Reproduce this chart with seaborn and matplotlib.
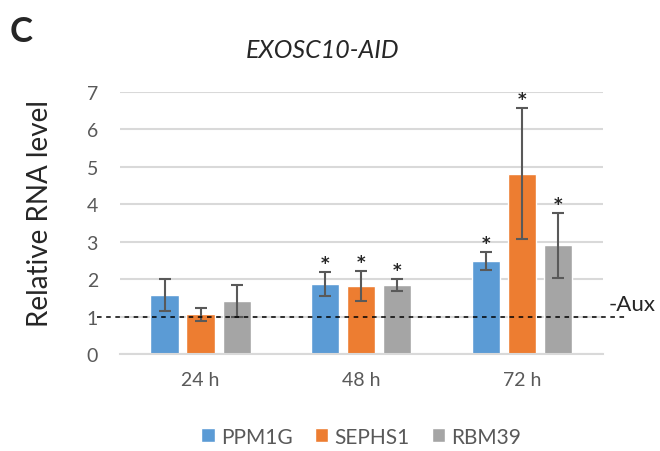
import matplotlib
matplotlib.use("Agg")
import matplotlib.pyplot as plt
import matplotlib.transforms as mtransforms
import pandas as pd
import seaborn as sns

# data
timepoints = ["24 h", "48 h", "72 h"]
genes = ["PPM1G", "SEPHS1", "RBM39"]
ppm1g = [1.57, 1.87, 2.49]
sephs1 = [1.06, 1.81, 4.81]
rbm39 = [1.42, 1.84, 2.91]
ppm1g_err = [0.43, 0.31, 0.24]
sephs1_err = [0.17, 0.40, 1.75]
rbm39_err = [0.42, 0.16, 0.87]
ppm1g_sig = [False, True, True]
sephs1_sig = [False, True, True]
rbm39_sig = [False, True, True]
no_aux_level = 1.0

colors = ["#5b9bd5", "#ed7d31", "#a5a5a5"]

df = pd.DataFrame({
    "time": timepoints * 3,
    "gene": [g for g in genes for _ in timepoints],
    "level": ppm1g + sephs1 + rbm39,
})
errs = [ppm1g_err, sephs1_err, rbm39_err]
sigs = [ppm1g_sig, sephs1_sig, rbm39_sig]

sns.set_style("white")
plt.rcParams["font.family"] = ["Lato", "DejaVu Sans"]

fig = plt.figure(figsize=(6.6, 4.52), dpi=100)
ax = fig.add_axes([0.182, 0.2146, 0.731, 0.5796])

sns.barplot(data=df, x="time", y="level", hue="gene", order=timepoints,
            hue_order=genes, palette=colors, errorbar=None,
            width=0.672, gap=0.22, saturation=1, ax=ax)

# error bars and significance stars on top of each bar
for cont, err, sig in zip(ax.containers, errs, sigs):
    for bar, e, s in zip(cont, err, sig):
        xc = bar.get_x() + bar.get_width() / 2
        h = bar.get_height()
        ax.errorbar(xc, h, yerr=e, color="#595959", lw=1.5,
                    capsize=4.5, capthick=1.5, zorder=3)
        if s:
            ax.annotate("*", (xc, h + e), xytext=(0, 0),
                        textcoords="offset points", ha="center",
                        va="bottom", fontsize=12, fontweight="bold",
                        family="DejaVu Sans")

ax.set_ylim(0, 7)
ax.set_xlim(-0.5, 2.5)
ax.set_yticks(range(0, 8))
ax.yaxis.grid(True, color="#d9d9d9", lw=1.5)
ax.set_axisbelow(True)
for sp in ["top", "right", "left"]:
    ax.spines[sp].set_visible(False)
ax.spines["bottom"].set_color("#d9d9d9")
ax.spines["bottom"].set_linewidth(1.5)
ax.tick_params(axis="both", length=0, labelsize=14, labelcolor="#595959")
ax.tick_params(axis="y", pad=16)
ax.tick_params(axis="x", pad=12)
ax.set_xlabel("")
ax.set_ylabel("Relative RNA level", fontsize=20, labelpad=5)
ax.yaxis.set_label_coords(-0.14, 0.54)
ax.set_title("EXOSC10-AID", fontsize=18, style="italic", x=0.42, pad=25)

# -Aux reference line
trans = mtransforms.blended_transform_factory(ax.transAxes, ax.transData)
ax.plot([-0.048, 1.051], [no_aux_level, no_aux_level], ls=(0, (3, 3)),
        color="black", lw=1.1, transform=trans, clip_on=False, zorder=4)
ax.text(1.013, no_aux_level + 0.06, "-Aux", transform=trans, fontsize=16,
        ha="left", va="bottom")

fig.text(0.015, 0.965, "C", fontsize=25, fontweight="bold", va="top")

handles, labels = ax.get_legend_handles_labels()
ax.legend(handles, labels, loc="center", bbox_to_anchor=(0.5, -0.315),
          ncol=3, frameon=False, fontsize=15, handlelength=0.65,
          handleheight=0.65, handletextpad=0.3, columnspacing=1.05,
          labelcolor="#595959")

fig.savefig("out.png", dpi=100)
